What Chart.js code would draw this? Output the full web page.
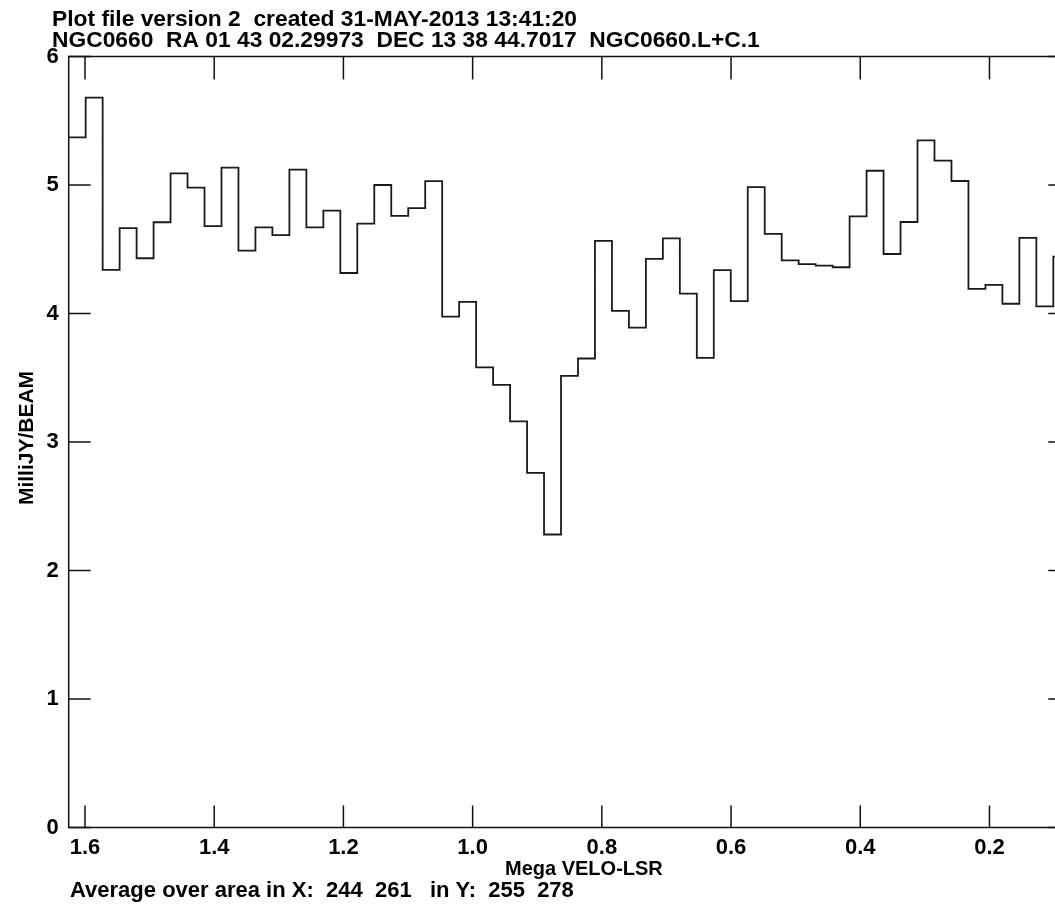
<!DOCTYPE html>
<html>
<head>
<meta charset="utf-8">
<title>NGC0660 spectrum</title>
<script src="https://cdn.jsdelivr.net/npm/chart.js@4/dist/chart.umd.min.js"></script>
<style>
  html, body { margin: 0; padding: 0; background: #fff; overflow: hidden; }
  canvas { display: block; }
</style>
</head>
<body>
<canvas id="myChart" width="1080" height="904"></canvas>
<script>
const titleLines = [
    'Plot file version 2  created 31-MAY-2013 13:41:20',
    'NGC0660  RA 01 43 02.29973  DEC 13 38 44.7017  NGC0660.L+C.1'
];
const footerText = 'Average over area in X:  244  261   in Y:  255  278';
const xAxisTitle = 'Mega VELO-LSR';
const yAxisTitle = 'MilliJY/BEAM';

// velocity of the first channel's outer edge and the channel width (Mega VELO-LSR)
const firstChannelEdge = 1.62523;
const channelWidth = 0.026277;

// flux per channel, MilliJY/BEAM
const fluxValues = [
    5.37, 5.68, 4.34, 4.665, 4.43, 4.71, 5.09, 4.98, 4.68, 5.135,
    4.49, 4.67, 4.61, 5.12, 4.67, 4.80, 4.315, 4.70, 5.00, 4.76,
    4.82, 5.03, 3.975, 4.09, 3.58, 3.445, 3.16, 2.76, 2.28, 3.515,
    3.65, 4.565, 4.02, 3.89, 4.425, 4.585, 4.155, 3.655, 4.337, 4.097,
    4.983, 4.62, 4.414, 4.385, 4.372, 4.36, 4.756, 5.111, 4.463, 4.712,
    5.348, 5.189, 5.031, 4.191, 4.222, 4.076, 4.588, 4.056, 4.442
];

const xTickValues = [1.6, 1.4, 1.2, 1.0, 0.8, 0.6, 0.4, 0.2];
const yTickValues = [0, 1, 2, 3, 4, 5, 6];

// histogram: each value starts at its channel edge, last one closed at the final edge
const channelEdges = [];
for (let i = 0; i <= fluxValues.length; i++) {
    channelEdges.push(firstChannelEdge - i * channelWidth);
}
const stepPoints = channelEdges.map((v, i) => ({
    x: v,
    y: fluxValues[Math.min(i, fluxValues.length - 1)]
}));

const fontFamily = '"Liberation Sans", Arial, Helvetica, sans-serif';
const inkColor = '#000';

// frame, inward tick marks on all four sides, and the free text
const framePlugin = {
    id: 'frame',
    afterDraw(chart) {
        const ctx = chart.ctx;
        const area = chart.chartArea;
        const xs = chart.scales.x;
        const ys = chart.scales.y;
        ctx.save();
        ctx.strokeStyle = '#111';
        ctx.lineWidth = 1.5;
        ctx.strokeRect(area.left, area.top, area.right - area.left, area.bottom - area.top);

        ctx.beginPath();
        xs.ticks.forEach(t => {
            const px = xs.getPixelForValue(t.value);
            ctx.moveTo(px, area.bottom);
            ctx.lineTo(px, area.bottom - 22);
            ctx.moveTo(px, area.top);
            ctx.lineTo(px, area.top + 23);
        });
        ys.ticks.forEach(t => {
            const py = ys.getPixelForValue(t.value);
            ctx.moveTo(area.left, py);
            ctx.lineTo(area.left + 22, py);
            ctx.moveTo(area.right, py);
            ctx.lineTo(area.right - 22, py);
        });
        ctx.stroke();

        ctx.fillStyle = inkColor;
        ctx.textAlign = 'left';
        ctx.textBaseline = 'alphabetic';
        ctx.font = 'bold 22.8px ' + fontFamily;
        ctx.fillText(titleLines[0], 52, 26);
        ctx.fillText(titleLines[1], 52, 46.5);

        ctx.font = 'bold 22px ' + fontFamily;
        ctx.fillText(footerText, 70, 897);

        ctx.font = 'bold 20px ' + fontFamily;
        ctx.fillText(xAxisTitle, 505, 875);

        ctx.translate(33, 438);
        ctx.rotate(-Math.PI / 2);
        ctx.textAlign = 'center';
        ctx.font = 'bold 21px ' + fontFamily;
        ctx.fillText(yAxisTitle, 0, 0);
        ctx.restore();
    }
};

const ctx = document.getElementById('myChart').getContext('2d');
const myChart = new Chart(ctx, {
    type: 'line',
    data: {
        datasets: [{
            label: 'Flux',
            data: stepPoints,
            stepped: true,
            borderColor: '#1a1a1a',
            borderWidth: 1.8,
            pointRadius: 0,
            fill: false
        }]
    },
    options: {
        responsive: false,
        animation: false,
        layout: { padding: { top: 56.5, right: 9.7, left: 0, bottom: 0 } },
        plugins: {
            legend: { display: false },
            tooltip: { enabled: false }
        },
        scales: {
            x: {
                type: 'linear',
                reverse: true,
                min: channelEdges[channelEdges.length - 1],
                max: firstChannelEdge,
                afterBuildTicks: s => { s.ticks = xTickValues.map(v => ({ value: v })); },
                afterFit: s => { s.height = 76.5; },
                grid: { display: false, drawTicks: false },
                border: { display: false },
                ticks: {
                    color: inkColor,
                    font: { family: fontFamily, size: 22, weight: 'bold' },
                    padding: 7,
                    maxRotation: 0,
                    autoSkip: false,
                    callback: v => v.toFixed(1)
                }
            },
            y: {
                min: 0,
                max: 6,
                afterBuildTicks: s => { s.ticks = yTickValues.map(v => ({ value: v })); },
                afterFit: s => { s.width = 68.7; },
                grid: { display: false, drawTicks: false },
                border: { display: false },
                ticks: {
                    color: inkColor,
                    font: { family: fontFamily, size: 22, weight: 'bold' },
                    padding: 10,
                    callback: v => String(v)
                }
            }
        }
    },
    plugins: [framePlugin]
});
</script>
</body>
</html>
